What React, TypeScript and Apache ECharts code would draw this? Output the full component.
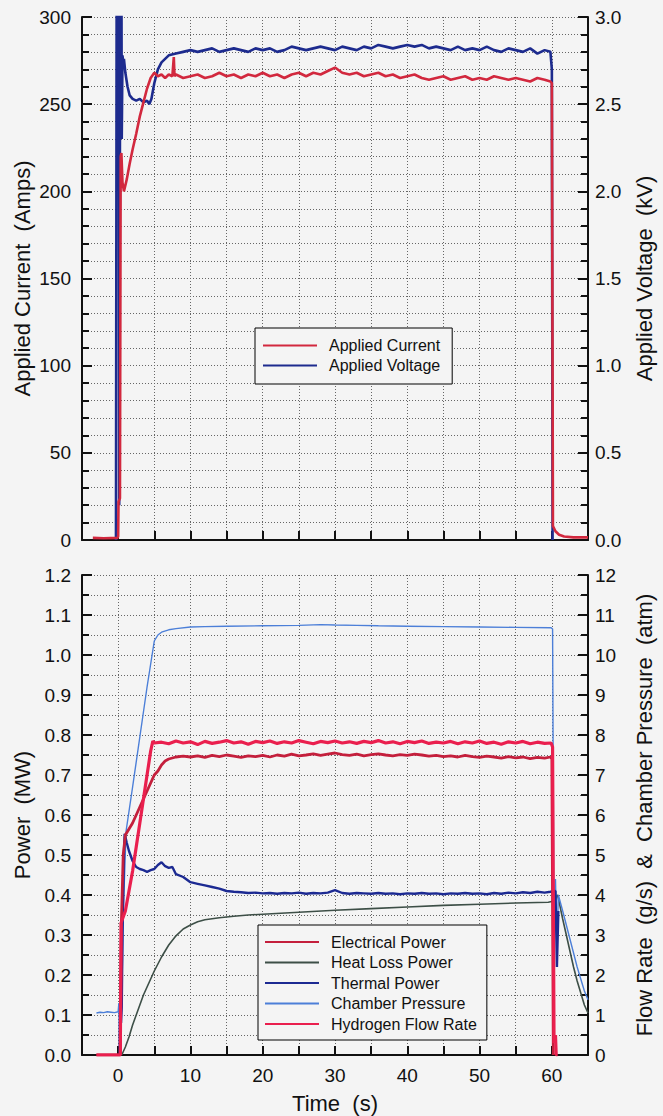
import React, { useEffect, useRef } from "react";
import * as echarts from "echarts";

// ---------- DATA (time in s) ----------
const appliedCurrent: [number, number][] = [
  [-3.5, 1.2], [-2, 1.0], [-0.1, 1.2], [0, 2], [0.05, 22], [0.25, 24], [0.35, 220], [0.45, 222], [0.6, 205], [0.8, 200],
  [1.2, 207], [1.6, 216], [2, 224], [2.5, 233], [3, 243], [3.5, 251], [4, 259], [4.5, 265], [5, 268], [5.5, 266],
  [6, 267], [6.5, 265], [7, 267], [7.5, 266], [7.7, 277], [7.8, 266], [8, 267], [9, 265], [10, 266], [11, 267],
  [12, 265], [13, 266], [14, 268], [15, 266], [16, 267], [17, 265], [18, 267], [19, 266], [20, 268], [21, 266],
  [22, 267], [23, 265], [24, 267], [25, 268], [26, 266], [27, 268], [28, 267], [29, 269], [30, 271], [31, 268],
  [32, 267], [33, 268], [34, 266], [35, 267], [36, 268], [37, 266], [38, 267], [39, 265], [40, 266], [41, 267],
  [42, 265], [43, 264], [44, 265], [45, 266], [46, 264], [47, 265], [48, 266], [49, 264], [50, 265], [51, 264],
  [52, 266], [53, 265], [54, 264], [55, 265], [56, 264], [57, 263], [58, 265], [59, 264], [59.8, 263], [60.0, 262],
  [60.15, 8], [60.5, 5], [61, 3], [61.7, 2], [63, 1.5], [65, 1.5],
];

const appliedVoltage: [number, number][] = [
  [-0.3, 0], [-0.2, 3.4], [0.1, 3.4], [0.15, 0.2], [0.3, 3.4], [0.45, 3.4], [0.5, 2.3], [0.6, 2.78], [0.7, 2.74],
  [0.8, 2.76], [1.0, 2.68], [1.3, 2.6], [1.6, 2.55], [2, 2.53], [2.5, 2.52], [3, 2.53], [3.5, 2.51], [4, 2.52],
  [4.3, 2.5], [4.6, 2.53], [5, 2.62], [5.5, 2.7], [6, 2.74], [6.5, 2.76], [7, 2.78], [8, 2.79], [9, 2.8], [10, 2.81],
  [11, 2.8], [12, 2.81], [13, 2.82], [14, 2.8], [15, 2.81], [16, 2.82], [17, 2.81], [18, 2.8], [19, 2.82], [20, 2.81],
  [21, 2.82], [22, 2.8], [23, 2.81], [24, 2.83], [25, 2.82], [26, 2.81], [27, 2.82], [28, 2.83], [29, 2.82], [30, 2.81],
  [31, 2.83], [32, 2.82], [33, 2.81], [34, 2.83], [35, 2.82], [36, 2.84], [37, 2.83], [38, 2.82], [39, 2.83], [40, 2.84],
  [41, 2.83], [42, 2.84], [43, 2.82], [44, 2.83], [45, 2.82], [46, 2.81], [47, 2.83], [48, 2.81], [49, 2.82], [50, 2.81],
  [51, 2.83], [52, 2.81], [53, 2.8], [54, 2.82], [55, 2.81], [56, 2.8], [57, 2.82], [58, 2.79], [59, 2.81], [59.8, 2.8],
  [60.0, 2.7], [60.1, 0],
];

const electricalPower: [number, number][] = [
  [-3, 0], [0.3, 0], [0.45, 0.33], [0.7, 0.5], [1.0, 0.55], [1.5, 0.565], [2, 0.58], [2.5, 0.6], [3, 0.62], [3.5, 0.64],
  [4, 0.66], [4.5, 0.68], [5, 0.7], [5.5, 0.71], [6, 0.725], [6.5, 0.735], [7, 0.74], [8, 0.745], [9, 0.747], [10, 0.745],
  [11, 0.748], [12, 0.744], [13, 0.749], [14, 0.746], [15, 0.75], [16, 0.747], [17, 0.744], [18, 0.748], [19, 0.746], [20, 0.749],
  [21, 0.745], [22, 0.75], [23, 0.747], [24, 0.752], [25, 0.748], [26, 0.75], [27, 0.753], [28, 0.749], [29, 0.752], [30, 0.755],
  [31, 0.751], [32, 0.749], [33, 0.752], [34, 0.748], [35, 0.751], [36, 0.753], [37, 0.75], [38, 0.748], [39, 0.751], [40, 0.749],
  [41, 0.752], [42, 0.75], [43, 0.747], [44, 0.749], [45, 0.746], [46, 0.748], [47, 0.745], [48, 0.749], [49, 0.746], [50, 0.744],
  [51, 0.747], [52, 0.745], [53, 0.742], [54, 0.746], [55, 0.743], [56, 0.745], [57, 0.741], [58, 0.744], [59, 0.742], [59.8, 0.745],
  [60, 0.74], [60.2, 0],
];

const heatLossPower: [number, number][] = [
  [0.5, 0], [1, 0.02], [1.5, 0.045], [2, 0.075], [2.5, 0.1], [3, 0.125], [3.5, 0.15], [4, 0.17], [4.5, 0.19], [5, 0.21],
  [6, 0.245], [7, 0.275], [8, 0.298], [9, 0.315], [10, 0.325], [11, 0.333], [12, 0.338], [14, 0.343], [16, 0.347], [18, 0.35],
  [20, 0.352], [25, 0.357], [30, 0.362], [35, 0.366], [40, 0.37], [45, 0.374], [50, 0.377], [55, 0.38], [59.5, 0.382],
  [60.3, 0.385], [60.8, 0.4], [61.5, 0.34], [62, 0.3], [62.5, 0.26], [63, 0.22], [63.5, 0.185], [64, 0.155], [64.5, 0.125], [65, 0.105],
];

const thermalPower: [number, number][] = [
  [0.2, 0], [0.3, 0.14], [0.4, 0.08], [0.5, 0.12], [0.6, 0.3], [0.8, 0.5], [0.9, 0.553], [1.2, 0.53], [1.5, 0.51], [2, 0.485],
  [2.5, 0.47], [3, 0.465], [3.5, 0.462], [4, 0.458], [4.5, 0.462], [5, 0.465], [5.5, 0.475], [6, 0.482], [6.5, 0.472], [7, 0.468],
  [7.5, 0.47], [8, 0.452], [9, 0.445], [10, 0.432], [11, 0.428], [12, 0.424], [13, 0.42], [14, 0.416], [15, 0.41], [16, 0.408],
  [17, 0.407], [18, 0.405], [19, 0.406], [20, 0.404], [21, 0.405], [22, 0.403], [23, 0.405], [24, 0.404], [25, 0.406], [26, 0.403],
  [27, 0.405], [28, 0.404], [29, 0.406], [30, 0.412], [31, 0.405], [32, 0.403], [33, 0.405], [34, 0.404], [35, 0.403], [36, 0.405],
  [37, 0.403], [38, 0.404], [39, 0.402], [40, 0.404], [41, 0.403], [42, 0.405], [43, 0.403], [44, 0.404], [45, 0.402], [46, 0.404],
  [47, 0.403], [48, 0.405], [49, 0.403], [50, 0.404], [51, 0.402], [52, 0.405], [53, 0.403], [54, 0.406], [55, 0.404], [56, 0.407],
  [57, 0.405], [58, 0.408], [59, 0.406], [59.8, 0.408], [60.5, 0.41], [60.7, 0.22], [60.9, 0.36],
];

const chamberPressure: [number, number][] = [
  [-3, 1.05], [-2.5, 1.07], [-2, 1.06], [-1.5, 1.08], [-1, 1.07], [-0.5, 1.06], [0, 1.08], [0.1, 1.3], [0.2, 0.2], [0.3, 1.5],
  [0.4, 0.9], [0.5, 1.3], [0.7, 3.5], [1.1, 5.6], [2, 6.7], [3, 7.95], [4, 9.2], [5, 10.35], [5.5, 10.5], [6, 10.57],
  [7, 10.63], [8, 10.66], [10, 10.7], [12, 10.71], [15, 10.72], [20, 10.73], [25, 10.74], [28, 10.76], [30, 10.75], [33, 10.74],
  [36, 10.73], [40, 10.72], [45, 10.71], [50, 10.7], [55, 10.69], [59.9, 10.68], [60.1, 10.65], [60.3, 2.4], [60.5, 4.4], [60.7, 2.8],
  [60.9, 4.0], [61.5, 3.6], [62, 3.25], [62.5, 2.9], [63, 2.55], [63.5, 2.2], [64, 1.9], [64.5, 1.6], [65, 1.38],
];

const hydrogenFlowRate: [number, number][] = [
  [-3, 0], [0.3, 0], [0.4, 3.3], [0.6, 3.4], [1.0, 3.6], [1.5, 4.1], [2, 4.6], [2.5, 5.2], [3, 5.8], [3.5, 6.4],
  [4, 7.0], [4.5, 7.6], [4.8, 7.85], [5, 7.8], [6, 7.82], [7, 7.78], [8, 7.85], [9, 7.8], [10, 7.83], [11, 7.76],
  [12, 7.84], [13, 7.79], [14, 7.82], [15, 7.86], [16, 7.8], [17, 7.83], [18, 7.77], [19, 7.84], [20, 7.81], [21, 7.85],
  [22, 7.79], [23, 7.83], [24, 7.8], [25, 7.86], [26, 7.82], [27, 7.78], [28, 7.84], [29, 7.81], [30, 7.85], [31, 7.8],
  [32, 7.83], [33, 7.79], [34, 7.84], [35, 7.81], [36, 7.86], [37, 7.8], [38, 7.83], [39, 7.78], [40, 7.84], [41, 7.81],
  [42, 7.85], [43, 7.79], [44, 7.82], [45, 7.8], [46, 7.84], [47, 7.78], [48, 7.83], [49, 7.8], [50, 7.85], [51, 7.79],
  [52, 7.82], [53, 7.77], [54, 7.83], [55, 7.8], [56, 7.84], [57, 7.78], [58, 7.82], [59, 7.79], [59.9, 7.8], [60.1, 7.7],
  [60.3, 0.3], [60.5, 0.5], [60.6, 0], [60.8, 0],
];

const topLegendNames = ["Applied Current", "Applied Voltage"];
const bottomLegendNames = ["Electrical Power", "Heat Loss Power", "Thermal Power", "Chamber Pressure", "Hydrogen Flow Rate"];

// ---------- STYLE ----------
const FONT = "'Liberation Sans', Arial, Helvetica, sans-serif";
const BG = "#f4f4f4";
const INK = "#111";
const GRID_LINE = { type: [1, 2] as any, color: "#666", width: 1 };

const C_CURRENT = "#d2283e";
const C_VOLTAGE = "#1d2b8e";
const C_ELEC = "#c41f3c";
const C_HEAT = "#3d4f47";
const C_THERM = "#1c2a92";
const C_PRESS = "#4c7fd8";
const C_H2 = "#ea1f4e";

function xAxisCfg(gridIndex: number, showLabels: boolean) {
  return {
    type: "value",
    gridIndex,
    min: -5,
    max: 65,
    interval: 5,
    axisLine: { show: true, onZero: false, lineStyle: { color: INK, width: 2 } },
    axisTick: { show: true, inside: true, length: 9, lineStyle: { color: INK, width: 2 } },
    axisLabel: {
      show: showLabels,
      margin: 11,
      fontSize: 19,
      fontFamily: FONT,
      color: INK,
      formatter: (v: number) => (Math.round(v) % 10 === 0 ? String(Math.round(v)) : ""),
    },
    splitLine: { show: true, lineStyle: GRID_LINE },
    name: showLabels ? "Time  (s)" : "",
    nameLocation: "middle",
    nameGap: 37,
    nameMoveOverlap: false,
    nameTextStyle: { fontSize: 22, fontFamily: FONT, color: INK },
  };
}

function yAxisCfg(opts: {
  gridIndex: number;
  position: "left" | "right";
  max: number;
  interval: number;
  minorSplit: number;
  decimals: number;
  name: string;
  nameGap: number;
  grid: boolean;
}) {
  return {
    type: "value",
    gridIndex: opts.gridIndex,
    position: opts.position,
    min: 0,
    max: opts.max,
    interval: opts.interval,
    axisLine: { show: true, onZero: false, lineStyle: { color: INK, width: 2 } },
    axisTick: { show: true, inside: true, length: 10, lineStyle: { color: INK, width: 2 } },
    minorTick: { show: true, splitNumber: opts.minorSplit, length: 7, lineStyle: { color: INK, width: 2 } },
    axisLabel: {
      margin: opts.position === "left" ? 11 : 7,
      fontSize: 19,
      fontFamily: FONT,
      color: INK,
      formatter: (v: number) => v.toFixed(opts.decimals),
    },
    splitLine: { show: opts.grid, lineStyle: GRID_LINE },
    minorSplitLine: { show: opts.grid, lineStyle: GRID_LINE },
    name: opts.name,
    nameLocation: "middle",
    nameRotate: 90,
    nameGap: opts.nameGap,
    nameMoveOverlap: false,
    nameTextStyle: { fontSize: 22, fontFamily: FONT, color: INK },
  };
}

function lineSeries(name: string, data: [number, number][], xi: number, yi: number, color: string, width: number, z: number) {
  return {
    name,
    type: "line",
    xAxisIndex: xi,
    yAxisIndex: yi,
    data,
    symbol: "none",
    showSymbol: false,
    clip: true,
    color,
    itemStyle: { color },
    lineStyle: { color, width },
    z,
  };
}

function legendCfg(names: string[], left: number, top: number, gap: number, padding: number[]) {
  return {
    data: names,
    orient: "vertical",
    left,
    top,
    icon: "rect",
    itemWidth: 54,
    itemHeight: 2,
    itemGap: gap,
    padding,
    backgroundColor: BG,
    borderColor: "#000",
    borderWidth: 1,
    selectedMode: false,
    textStyle: { fontSize: 16, fontFamily: FONT, color: INK, lineHeight: 17, padding: [0, 0, 0, 7] },
    z: 10,
  };
}

export default function App() {
  const ref = useRef<HTMLDivElement>(null);

  useEffect(() => {
    if (!ref.current) return;
    const chart = echarts.init(ref.current, undefined, { renderer: "svg" });
    const option: any = {
      animation: false,
      backgroundColor: BG,
      textStyle: { fontFamily: FONT },
      grid: [
        { left: 82, top: 17, width: 509, height: 523, containLabel: false },
        { left: 82, top: 575, width: 509, height: 480, containLabel: false },
      ],
      xAxis: [xAxisCfg(0, false), xAxisCfg(1, true)],
      yAxis: [
        yAxisCfg({ gridIndex: 0, position: "left", max: 300, interval: 50, minorSplit: 5, decimals: 0, name: "Applied Current  (Amps)", nameGap: 49, grid: true }),
        yAxisCfg({ gridIndex: 0, position: "right", max: 3, interval: 0.5, minorSplit: 5, decimals: 1, name: "Applied Voltage  (kV)", nameGap: 45, grid: false }),
        yAxisCfg({ gridIndex: 1, position: "left", max: 1.2, interval: 0.1, minorSplit: 2, decimals: 1, name: "Power  (MW)", nameGap: 49, grid: true }),
        yAxisCfg({ gridIndex: 1, position: "right", max: 12, interval: 1, minorSplit: 2, decimals: 0, name: "Flow Rate  (g/s)  &  Chamber Pressure  (atm)", nameGap: 45, grid: false }),
      ],
      legend: [
        legendCfg(topLegendNames, 255, 328, 3, [9, 12, 10, 8]),
        legendCfg(bottomLegendNames, 258, 925, 3.5, [8.5, 10, 7.5, 7]),
      ],
      series: [
        lineSeries("Applied Voltage", appliedVoltage, 0, 1, C_VOLTAGE, 2.6, 2),
        lineSeries("Applied Current", appliedCurrent, 0, 0, C_CURRENT, 2.6, 3),
        lineSeries("Heat Loss Power", heatLossPower, 1, 2, C_HEAT, 1.6, 2),
        lineSeries("Chamber Pressure", chamberPressure, 1, 3, C_PRESS, 1.4, 3),
        lineSeries("Thermal Power", thermalPower, 1, 2, C_THERM, 2.4, 4),
        lineSeries("Electrical Power", electricalPower, 1, 2, C_ELEC, 2.8, 5),
        lineSeries("Hydrogen Flow Rate", hydrogenFlowRate, 1, 3, C_H2, 3.2, 6),
      ],
    };
    chart.setOption(option);
    return () => chart.dispose();
  }, []);

  return (
    <div
      ref={ref}
      style={{ position: "absolute", left: 0, top: 0, width: 663, height: 1116, background: BG }}
    />
  );
}
